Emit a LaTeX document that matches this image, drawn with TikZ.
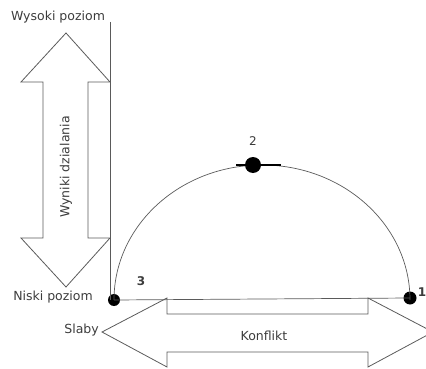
\documentclass[tikz,border=0pt]{standalone}
\usepackage{fontspec}
\setmainfont{DejaVu Sans}
\usepackage{tikz}
\usetikzlibrary{positioning,calc}

\definecolor{linegray}{RGB}{90,90,90}
\definecolor{textgray}{RGB}{60,60,60}

\begin{document}
\begin{tikzpicture}[x=1pt, y=-1pt,
        label/.style={font=\fontsize{12.5}{15}\selectfont, text=textgray, inner sep=1pt},
        numlabel/.style={font=\fontsize{12}{14}\selectfont, text=textgray, inner sep=1pt},
        bigarrow/.style={draw=linegray, line width=0.8pt, line join=miter},
        dot/.style={circle, fill=black, inner sep=0pt},
        curve/.style={draw=linegray, line width=0.7pt}
    ]
    \useasboundingbox (0,0) rectangle (426,369);

    % Vertical arrow (Wyniki dzialania)
    \draw[bigarrow] (66,33) -- (110,82) -- (88,82) -- (88,238) -- (110,238)
        -- (66,287) -- (21,238) -- (43,238) -- (43,82) -- (21,82) -- cycle;
    \node[label, rotate=90] (wyniki) at (66,167) {Wyniki dzialania};

    % Horizontal arrow (Konflikt)
    \draw[bigarrow] (102,332) -- (167,298) -- (167,314) -- (368,314) -- (368,298)
        -- (433,332) -- (368,367) -- (368,352) -- (167,352) -- (167,367) -- cycle;
    \node[label] (konflikt) at (264,336) {Konflikt};

    % Points
    \node[dot, minimum size=12pt] (p3) at (114,300) {};
    \node[dot, minimum size=16pt] (p2) at (253,165) {};
    \node[dot, minimum size=13pt] (p1) at (410,298) {};
    \coordinate (top) at (110,22);

    % Axis and curve
    \draw[curve] (top) -- (110,300);
    \draw[curve] (p3.center) -- (p1.center);
    \draw[curve] (p3.center) arc[start angle=180, end angle=360, x radius=148, y radius=135];
    \draw[line width=2.2pt] ($(p2)+(-17,0)$) -- ($(p2)+(28,0)$);

    % Labels
    \node[label] (wysoki) at (58,17) {Wysoki poziom};
    \node[label] (niski) at (53,297) {Niski poziom};
    \node[label, anchor=east] (slaby) at (100,330) {Slaby};
    \node[numlabel, above=10pt of p2] (n2) {2};
    \node[numlabel, font=\fontsize{12}{14}\selectfont\bfseries] (n3) at (141,281) {3};
    \node[numlabel, font=\fontsize{12}{14}\selectfont\bfseries] (n1) at (422,292) {1};

\end{tikzpicture}
\end{document}
